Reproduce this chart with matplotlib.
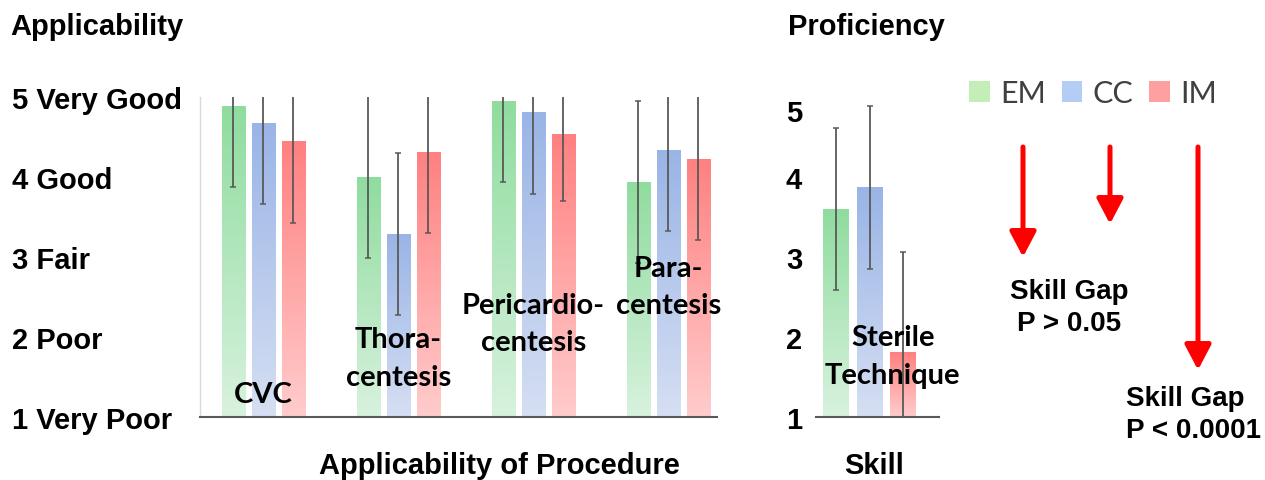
import numpy as np
import matplotlib
matplotlib.use("Agg")
import matplotlib.pyplot as plt
from matplotlib.patches import Patch
from matplotlib.colors import LinearSegmentedColormap
import matplotlib.transforms as mtransforms

# data
procedures = ["CVC", "Thora-\ncentesis", "Pericardio-\ncentesis", "Para-\ncentesis"]
groups = ["EM", "CC", "IM"]
em_app = [4.89, 4.00, 4.95, 3.94]
cc_app = [4.68, 3.29, 4.81, 4.34]
im_app = [4.45, 4.31, 4.54, 4.23]
em_app_err = [1.01, 1.01, 1.01, 1.01]
cc_app_err = [1.02, 1.01, 1.02, 1.01]
im_app_err = [1.02, 1.01, 0.84, 1.02]

skill_name = "Sterile\nTechnique"
skill_vals = [3.60, 3.87, 1.81]
skill_err = [1.01, 1.02, 1.25]

app_ticks = [1, 2, 3, 4, 5]
app_ticklabels = ["1 Very Poor", "2 Poor", "3 Fair", "4 Good", "5 Very Good"]
skill_ticks = [1, 2, 3, 4, 5]

top_colors = ["#8fdc9e", "#99b4e6", "#ff8080"]
bottom_colors = ["#d8f2de", "#d6dff3", "#ffcccc"]
legend_colors = ["#c4eeb8", "#b4cdf4", "#ffa0a0"]

W, H = 1265, 481
fig = plt.figure(figsize=(W / 100, H / 100), dpi=100)

BOLD = "Liberation Sans"
CAL = "Lato"
FS = 21
ERR = dict(ecolor="#595959", elinewidth=1.3, capsize=2.5, capthick=1.1)


def px_axes(x0, x1, ytop, ybot):
    return fig.add_axes([x0 / W, 1 - ybot / H, (x1 - x0) / W, (ybot - ytop) / H])


def gradient_bars(ax, bars, top, bottom):
    cmap = LinearSegmentedColormap.from_list("g", [bottom, top])
    grad = np.linspace(0, 1, 256).reshape(-1, 1)
    for b in bars:
        x0, y0 = b.get_x(), b.get_y()
        w, h = b.get_width(), b.get_height()
        im = ax.imshow(grad, cmap=cmap, origin="lower", aspect="auto",
                       extent=[x0, x0 + w, y0, y0 + h], zorder=1)
        im.set_clip_path(b)
        b.set_facecolor("none")
        b.set_edgecolor("none")


# ---- applicability panel
ax = px_axes(200, 717, 98, 418)
x = np.arange(len(procedures))
bw, step = 0.173, 0.222
series = [em_app, cc_app, im_app]
errs = [em_app_err, cc_app_err, im_app_err]
for i in range(3):
    pos = x + (i - 1) * step
    bars = ax.bar(pos, np.array(series[i]) - 1, bottom=1, width=bw, color=top_colors[i])
    gradient_bars(ax, bars, top_colors[i], bottom_colors[i])
    ax.errorbar(pos, series[i], yerr=errs[i], fmt="none", zorder=3, **ERR)

ax.set_xlim(-0.47, 3.36)
ax.set_ylim(1, 5)
ax.set_xticks([])
ax.set_yticks(app_ticks)
ax.set_yticklabels(app_ticklabels, fontfamily=BOLD, fontweight="bold", fontsize=FS, ha="left")
ax.tick_params(axis="y", length=0, pad=135)
for s in ["top", "right"]:
    ax.spines[s].set_visible(False)
ax.spines["left"].set_color("#d9d9d9")
ax.spines["left"].set_linewidth(1)
ax.spines["bottom"].set_color("#595959")
ax.spines["bottom"].set_linewidth(1.5)

label_y = [1.29, 1.74, 2.17, 2.63]
for i, name in enumerate(procedures):
    ax.text(x[i], label_y[i], name, ha="center", va="center", fontfamily=CAL,
            fontweight="bold", fontsize=21, linespacing=1.55, zorder=4)

# ---- skill panel
ax2 = px_axes(816, 939, 98, 418)
sx = np.array([-1, 0, 1])
for i in range(3):
    bars = ax2.bar([sx[i]], [skill_vals[i] - 1], bottom=1, width=0.78, color=top_colors[i])
    gradient_bars(ax2, bars, top_colors[i], bottom_colors[i])
    ax2.errorbar([sx[i]], [skill_vals[i]], yerr=[skill_err[i]], fmt="none", zorder=3, **ERR)
ax2.set_xlim(-1.61, 2.09)
ax2.set_ylim(1, 5)
ax2.set_xticks([])
ax2.set_yticks(skill_ticks)
ax2.set_yticklabels([str(t) for t in skill_ticks], fontfamily=BOLD, fontweight="bold", fontsize=FS)
ax2.tick_params(axis="y", length=0, pad=10)
for s in ["top", "right", "left"]:
    ax2.spines[s].set_visible(False)
ax2.spines["bottom"].set_color("#595959")
ax2.spines["bottom"].set_linewidth(1.5)
# the top "5" sits a bit lower in the original
lab5 = ax2.get_yticklabels()[-1]
lab5.set_transform(lab5.get_transform() + mtransforms.ScaledTranslation(0, -0.13, fig.dpi_scale_trans))
ax2.text(0.7, 1.76, skill_name, ha="center", va="center", fontfamily=CAL,
         fontweight="bold", fontsize=21, linespacing=1.55, zorder=4)

# ---- titles
fig.text(10 / W, 1 - 27 / H, "Applicability", fontfamily=BOLD, fontweight="bold",
         fontsize=FS, va="center", ha="left")
fig.text(788 / W, 1 - 27 / H, "Proficiency", fontfamily=BOLD, fontweight="bold",
         fontsize=FS, va="center", ha="left")
fig.text(499 / W, 1 - 466 / H, "Applicability of Procedure", fontfamily=BOLD,
         fontweight="bold", fontsize=FS, va="center", ha="center")
fig.text(874 / W, 1 - 466 / H, "Skill", fontfamily=BOLD, fontweight="bold",
         fontsize=FS, va="center", ha="center")

# ---- legend
handles = [Patch(facecolor=c, edgecolor="none") for c in legend_colors]
leg = fig.legend(handles, groups, ncol=3, frameon=False, loc="center left",
                 bbox_to_anchor=(969 / W, 1 - 94 / H), borderpad=0, borderaxespad=0,
                 handlelength=0.68, handleheight=0.68,
                 handletextpad=0.35, columnspacing=0.5,
                 prop=dict(family=CAL, size=22))
for t in leg.get_texts():
    t.set_color("#404040")

# ---- arrows and skill gap notes
arrow_x = [1023, 1110, 1198]
arrow_tip = [258, 225, 371]
for ax_, tip in zip(arrow_x, arrow_tip):
    fig.add_artist(matplotlib.patches.FancyArrowPatch(
        (ax_ / W, 1 - 148 / H), (ax_ / W, 1 - tip / H), transform=fig.transFigure,
        arrowstyle="-|>,head_length=0.95,head_width=0.5", mutation_scale=16,
        color="red", lw=3.6, shrinkA=0, shrinkB=0))

fig.text(1069 / W, 1 - 308 / H, "Skill Gap\nP > 0.05", fontfamily=BOLD, fontweight="bold",
         fontsize=20, ha="center", va="center", linespacing=1.3)
fig.text(1126 / W, 1 - 415 / H, "Skill Gap\nP < 0.0001", fontfamily=BOLD, fontweight="bold",
         fontsize=20, ha="left", va="center", linespacing=1.3)

fig.savefig("out.png", dpi=100)
